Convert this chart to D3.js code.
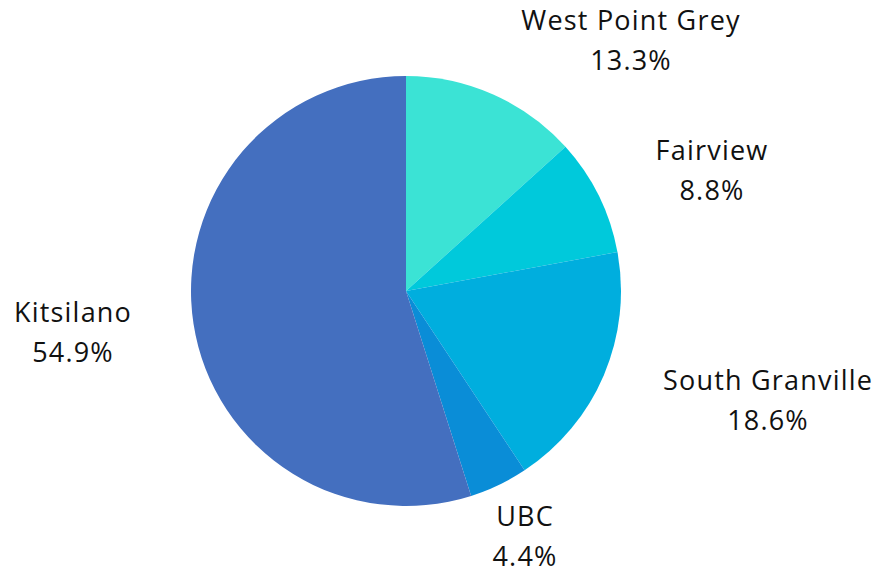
<!DOCTYPE html>
<html>
<head>
<meta charset="utf-8">
<script src="https://cdn.jsdelivr.net/npm/d3@7"></script>
<style>
  html, body { margin: 0; padding: 0; background: #fff; }
  svg text { font-family: "Open Sans", "Noto Sans", sans-serif; font-weight: 400; fill: #111; }
</style>
</head>
<body>
<svg width="880" height="575"></svg>
<script>
// Chart data
const categories = ["West Point Grey", "Fairview", "South Granville", "UBC", "Kitsilano"];
const shares = [13.3, 8.8, 18.6, 4.4, 54.9];
const colors = ["#3be3d5", "#00c9db", "#00aede", "#0a8dd7", "#446fbf"];

// Label placement (centre of each two-line label, relative to pie centre)
const labelOffsets = [[225, -241], [306, -111], [362, 119], [119, 255], [-333, 51]];

const svg = d3.select("svg");
const cx = 406;
const cy = 291;
const radius = 215;

const data = categories.map((c, i) => ({ name: c, value: shares[i], color: colors[i], off: labelOffsets[i] }));

const pie = d3.pie().sort(null).value(d => d.value);
const arc = d3.arc().innerRadius(0).outerRadius(radius);

const g = svg.append("g").attr("transform", `translate(${cx},${cy})`);

g.selectAll("path")
  .data(pie(data))
  .enter()
  .append("path")
  .attr("d", arc)
  .attr("fill", d => d.data.color);

// Labels: name on top, percentage below
const labels = g.selectAll("g.label")
  .data(pie(data))
  .enter()
  .append("g")
  .attr("class", "label")
  .attr("transform", d => `translate(${d.data.off[0]},${d.data.off[1]})`);

labels.append("text")
  .attr("text-anchor", "middle")
  .attr("y", -20)
  .style("font-size", "27px")
  .style("letter-spacing", "1.2px")
  .text(d => d.data.name);

labels.append("text")
  .attr("text-anchor", "middle")
  .attr("y", 20)
  .style("font-size", "27px")
  .style("letter-spacing", "1.2px")
  .text(d => d.data.value.toFixed(1) + "%");
</script>
</body>
</html>
